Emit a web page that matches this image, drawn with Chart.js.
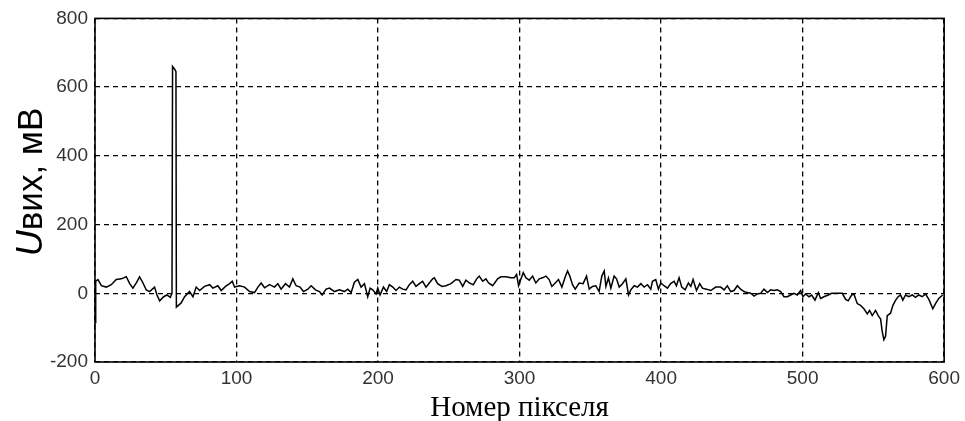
<!DOCTYPE html>
<html>
<head>
<meta charset="utf-8">
<script src="https://cdn.jsdelivr.net/npm/chart.js@4"></script>
<style>
  html, body { margin: 0; padding: 0; background: #fff; }
  #wrap { width: 965px; height: 421px; position: relative; }
</style>
</head>
<body>
<div id="wrap"><canvas id="sigChart"></canvas></div>
<script>
// pixel numbers (x) and output voltage in mV (y)
const pixelNo = [
  0, 0.5, 2.1, 4.5, 8, 11.5, 15, 18.6, 22.1, 24.5, 26.8, 29.2, 31.5, 33.9, 36.2, 38.6,
  42.1, 43.8, 45.7, 48.5, 50.8, 53.2, 54.4, 54.8, 56.3, 57.2, 57.5, 60.9, 63.3, 66.8,
  69.2, 71.5, 73.9, 77.4, 81, 83.3, 86.8, 89.2, 92.2, 95.1, 97, 98.6, 102.1, 105.7,
  109.2, 112.7, 115.1, 117.4, 119.8, 123.3, 126.8, 129.2, 131.5, 134.6, 137.4, 139.8,
  142.1, 144.9, 147.3, 150.4, 152.7, 155.8, 158.6, 160.5, 163.3, 165.7, 169.2, 172.7,
  176.2, 178.6, 181, 183.3, 185.7, 188, 190.4, 192.7, 194.4, 196.2, 198.6, 199.8,
  201.4, 203.8, 206.1, 208, 210.4, 212.7, 215.1, 217.4, 219.8, 222.1, 224.5, 226.8,
  229.2, 231.5, 233.9, 236.2, 238.6, 239.8, 242.1, 245.2, 248, 251.5, 255.1, 257.4,
  259.8, 262.1, 264.5, 267.3, 269.7, 271.5, 273.9, 276.2, 278.1, 281, 284.5, 286.8,
  290.4, 293.9, 296.2, 297.9, 299.3, 301, 302.6, 304.5, 306.8, 309.2, 311.5, 313.9,
  316.2, 318.6, 320.9, 322.8, 325.2, 327.5, 329.9, 332.3, 333.9, 335.5, 337.4, 339.3,
  342.1, 344.9, 347.3, 349.2, 351.5, 353.9, 356.2, 358.1, 359.8, 361, 362.8, 364.5,
  366.8, 368.5, 370.4, 372.7, 375.1, 377, 378.6, 381, 383.3, 385.7, 388, 390.4, 392.7,
  393.9, 396.2, 398.1, 399.8, 402.1, 404.5, 406.8, 409.2, 410.8, 412.7, 414.6, 417,
  419.3, 421, 422.6, 425, 427.3, 429.2, 432, 435.1, 438.6, 442.1, 444.5, 446.8, 449.2,
  451.5, 453.9, 456.2, 458.6, 460.9, 463.3, 465.7, 468, 470.4, 472.7, 475.1, 477.4,
  479.8, 482.1, 484.5, 486.8, 489.2, 491.5, 493.9, 496.2, 498.6, 500.2, 502.1, 504.5,
  506.4, 508.7, 511.1, 512.7, 515.1, 518.1, 520.5, 524.5, 528, 530.4, 532.2, 534.6,
  536.2, 538.6, 540.9, 543.3, 545.7, 547.3, 549.2, 551.5, 553.4, 555.1, 556.2, 557.4,
  558.6, 559.8, 562.1, 563.8, 565.7, 567.5, 569.2, 570.8, 572.7, 575.1, 577.4, 579.8,
  582.1, 584.5, 586.8, 589.2, 592, 593.9, 596.2, 599
];
const uOut = [
  -85, 35, 40, 22, 18, 25, 40, 42, 48, 28, 15, 30, 48, 30, 10, 5,
  18, -5, -22, -10, -5, -12, 0, 660, 652, 645, -40, -28, -10, 5,
  -10, 18, 8, 20, 25, 15, 22, 8, 20, 28, 35, 18, 22, 18,
  5, 2, 18, 30, 16, 25, 18, 28, 12, 28, 18, 42,
  22, 18, 5, 12, 22, 10, 5, -5, 12, 15, 5, 10,
  5, 12, 2, 32, 40, 18, 28, -10, 15, 10, -2, 15,
  -5, 18, 5, 25, 18, 8, 18, 12, 10, 25, 35, 20,
  28, 35, 18, 30, 42, 45, 28, 20, 22, 28, 40, 38,
  20, 38, 30, 25, 42, 50, 35, 42, 30, 22, 42, 48,
  48, 45, 45, 55, 22, 42, 60, 45, 38, 50, 30, 42,
  45, 50, 40, 20, 30, 40, 18, 48, 65, 50, 25, 12,
  30, 28, 50, 12, 20, 22, 5, 50, 65, 20, 45, 15,
  50, 42, 18, 28, 42, -5, 10, 22, 18, 28, 18, 25, 12,
  35, 40, 12, 30, 22, 15, 28, 35, 22, 45, 18, 10,
  30, 20, 40, 8, 28, 15, 12, 8, 18, 18, 10, 22, 5,
  8, 22, 12, 5, 2, 0, -8, -2, 0, 12, 2, 10,
  8, 10, 5, -10, -10, -5, 0, -5, 8, -10, -2, -10,
  -5, -20, 2, -15, -10, -5, 0, 0, 0, -18, -22, -5,
  -2, -30, -35, -45, -60, -50, -65, -50, -65, -75, -110, -135,
  -125, -65, -58, -35, -20, -10, -5, -20, -5, -10, -5, -12,
  -5, -10, -2, -18, -45, -30, -15, -5
];
const xTicks = [0, 100, 200, 300, 400, 500, 600];
const yTicks = [-200, 0, 200, 400, 600, 800];
const xTitle = 'Номер пікселя';

const points = pixelNo.map((x, i) => ({ x: x, y: uOut[i] }));

// frame + axis titles (y title has italic U)
const decor = {
  id: 'decor',
  afterDraw(chart) {
    const { ctx, chartArea: a } = chart;
    ctx.save();
    ctx.strokeStyle = '#000';
    ctx.lineWidth = 1.6;
    ctx.strokeRect(a.left, a.top, a.right - a.left, a.bottom - a.top);

    ctx.fillStyle = '#000';
    ctx.textAlign = 'center';
    ctx.textBaseline = 'alphabetic';
    ctx.font = '29px "Liberation Serif"';
    ctx.fillText(xTitle, (a.left + a.right) / 2, 416);

    // y title, rotated
    const parts = [
      { t: 'U', f: 'italic 36px "Liberation Sans"' },
      { t: 'вих, мВ', f: '35px "Liberation Sans"' }
    ];
    let total = 0;
    parts.forEach(p => { ctx.font = p.f; p.w = ctx.measureText(p.t).width; total += p.w; });
    ctx.translate(42, 182);
    ctx.rotate(-Math.PI / 2);
    ctx.textAlign = 'left';
    let x = -total / 2;
    parts.forEach(p => { ctx.font = p.f; ctx.fillText(p.t, x, 0); x += p.w; });
    ctx.restore();
  }
};

new Chart(document.getElementById('sigChart'), {
  type: 'line',
  data: {
    datasets: [{
      data: points,
      borderColor: '#000',
      borderWidth: 1.5,
      pointRadius: 0,
      tension: 0,
      fill: false
    }]
  },
  options: {
    responsive: true,
    maintainAspectRatio: false,
    animation: false,
    events: [],
    layout: { padding: { left: 0, right: 20, top: 18, bottom: 0 } },
    plugins: { legend: { display: false }, tooltip: { enabled: false } },
    scales: {
      x: {
        type: 'linear',
        min: 0, max: 600,
        afterFit: s => { s.height = 59; },
        afterBuildTicks: s => { s.ticks = xTicks.map(v => ({ value: v })); },
        grid: { color: '#000', lineWidth: 1.3, drawTicks: false },
        border: { display: false, dash: [5, 4] },
        ticks: { color: '#333', font: { family: 'Liberation Sans', size: 19 }, padding: 5, maxRotation: 0 }
      },
      y: {
        min: -200, max: 800,
        afterFit: s => { s.width = 95; },
        afterBuildTicks: s => { s.ticks = yTicks.map(v => ({ value: v })); },
        grid: { color: '#000', lineWidth: 1.3, drawTicks: false },
        border: { display: false, dash: [5, 4] },
        ticks: { color: '#333', font: { family: 'Liberation Sans', size: 19 }, padding: 7 }
      }
    }
  },
  plugins: [decor]
});
</script>
</body>
</html>
